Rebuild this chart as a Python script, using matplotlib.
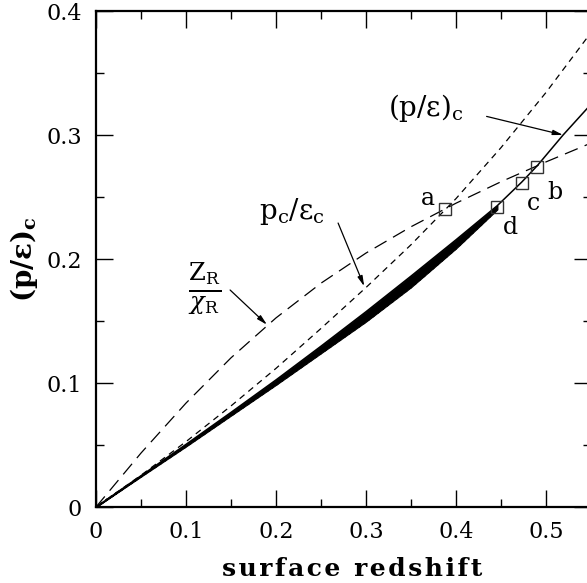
import matplotlib
matplotlib.use("Agg")
import matplotlib.pyplot as plt
from matplotlib.ticker import MultipleLocator

plt.rcParams['font.family'] = 'DejaVu Serif'
plt.rcParams['mathtext.fontset'] = 'dejavuserif'

# data (surface redshift vs central p/eps)
x_grid = [0, 0.05, 0.1, 0.15, 0.2, 0.25, 0.3, 0.35, 0.4, 0.45, 0.5, 0.55]
pc_ec = [0, 0.0256, 0.0527, 0.0815, 0.1118, 0.1440, 0.1770, 0.2115, 0.2487, 0.2898, 0.3343, 0.3826]
zr_xr = [0, 0.0435, 0.0838, 0.1203, 0.1525, 0.1805, 0.2048, 0.2260, 0.2450, 0.2623, 0.2783, 0.2935]

x_sol = [0, 0.05, 0.1, 0.15, 0.2, 0.25, 0.3, 0.35, 0.4, 0.446, 0.473, 0.49, 0.519, 0.549]
p_eps = [0, 0.0252, 0.0505, 0.0763, 0.1025, 0.1297, 0.1575, 0.1862, 0.2155, 0.2431,
         0.2620, 0.2750, 0.3000, 0.3240]

# band of models (lower edge), up to point d
x_band = [0, 0.05, 0.1, 0.15, 0.2, 0.25, 0.3, 0.35, 0.4, 0.446]
band_hi = [0, 0.0252, 0.0505, 0.0763, 0.1025, 0.1297, 0.1575, 0.1862, 0.2155, 0.2431]
band_lo = [0, 0.0245, 0.0488, 0.0737, 0.0985, 0.1240, 0.1495, 0.1772, 0.2085, 0.2400]

pt_names = ['a', 'b', 'c', 'd']
pt_x = [0.388, 0.490, 0.473, 0.446]
pt_y = [0.240, 0.274, 0.261, 0.242]

xticks = [0, 0.1, 0.2, 0.3, 0.4, 0.5]
xtick_labels = ['0', '0.1', '0.2', '0.3', '0.4', '0.5']
yticks = [0, 0.1, 0.2, 0.3, 0.4]
ytick_labels = ['0', '0.1', '0.2', '0.3', '0.4']

fig = plt.figure(figsize=(5.87, 5.83), dpi=100)
ax = fig.add_axes([96 / 587, 76 / 583, 495 / 587, 496 / 583])

ax.plot(x_grid, pc_ec, color='black', lw=0.9, dashes=(5, 4))
ax.plot(x_grid, zr_xr, color='black', lw=0.9, dashes=(11, 6))
ax.plot(x_sol, p_eps, color='black', lw=1.1)
ax.fill_between(x_band, band_lo, band_hi, color='black', lw=0.8)
ax.plot(x_band, band_lo, color='black', lw=1.6, ls=':')

ax.plot(pt_x, pt_y, 's', ms=8.5, mfc='none', mec='#333333', mew=1.0)

lab_x = [0.369, 0.510, 0.486, 0.460]
lab_y = [0.249, 0.254, 0.245, 0.225]
for name, lx, ly in zip(pt_names, lab_x, lab_y):
    ax.text(lx, ly, name, fontsize=17, ha='center', va='center')

# curve labels with arrows
arrow = dict(arrowstyle='-|>,head_length=0.6,head_width=0.15', color='black', lw=0.9,
             shrinkA=0, shrinkB=0)
ax.text(0.325, 0.322, '(p/ε)$_\\mathrm{c}$', fontsize=20, ha='left', va='center')
ax.annotate('', xy=(0.519, 0.300), xytext=(0.434, 0.315), arrowprops=arrow)

ax.text(0.181, 0.238, 'p$_\\mathrm{c}$/ε$_\\mathrm{c}$', fontsize=20, ha='left', va='center')
ax.annotate('', xy=(0.298, 0.178), xytext=(0.269, 0.229), arrowprops=arrow)

ax.text(0.121, 0.176, r'$\frac{\mathrm{Z}_\mathrm{R}}{\chi_\mathrm{R}}$', fontsize=25,
        ha='center', va='center')
ax.annotate('', xy=(0.190, 0.147), xytext=(0.149, 0.175), arrowprops=arrow)

ax.set_xlim(0, 0.55)
ax.set_ylim(0, 0.4)
ax.set_xticks(xticks)
ax.set_xticklabels(xtick_labels)
ax.set_yticks(yticks)
ax.set_yticklabels(ytick_labels)
ax.xaxis.set_minor_locator(MultipleLocator(0.05))
ax.yaxis.set_minor_locator(MultipleLocator(0.05))
ax.tick_params(which='both', direction='in', top=True, right=True, labelsize=16)
ax.tick_params(which='major', length=12, width=1, pad=10)
ax.tick_params(which='minor', length=6, width=1)
for s in ax.spines.values():
    s.set_linewidth(1.6)

ax.set_xlabel('\u200a'.join('surface redshift'), fontsize=18, fontweight='bold')
ax.xaxis.set_label_coords(0.518, -0.1)
ax.set_ylabel('(p/ε)$_\\mathbf{c}$', fontsize=20, fontweight='bold')
ax.yaxis.set_label_coords(-0.113, 0.5)

fig.savefig('out.png', dpi=100)
